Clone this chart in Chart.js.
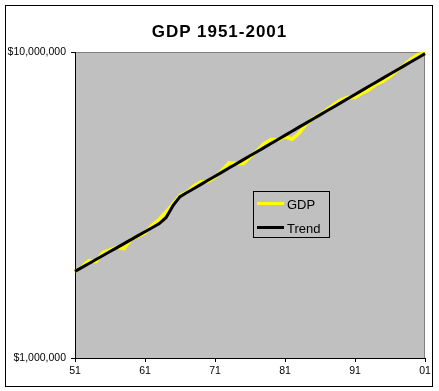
<!DOCTYPE html>
<html>
<head>
<meta charset="utf-8">
<script src="https://cdn.jsdelivr.net/npm/chart.js@4/dist/chart.umd.min.js"></script>
<style>
body { margin: 0; background: #fff; font-family: Arial, "Liberation Sans", sans-serif; }
#wrap { position: relative; width: 439px; height: 391px; overflow: hidden; }
#frame { position: absolute; left: 5px; top: 5px; width: 428px; height: 382px; border: 1px solid #000; box-sizing: border-box; }
#chart { position: absolute; left: 0; top: 0; }
#title { position: absolute; left: 0; width: 439px; top: 23px; text-align: center; font-weight: bold; font-size: 17px; line-height: 17px; letter-spacing: 1px; color: #000; }
#legend { position: absolute; left: 253px; top: 191px; width: 77px; height: 47px; border: 1px solid #000; box-sizing: border-box; }
.sw { position: absolute; left: 3px; width: 27px; height: 3px; }
.lt { position: absolute; left: 33px; font-size: 13px; line-height: 13px; color: #000; }
</style>
</head>
<body>
<div id="wrap">
  <div id="frame"></div>
  <canvas id="chart" width="439" height="391"></canvas>
  <div id="title">GDP 1951-2001</div>
  <div id="legend">
    <div class="sw" style="top:10px;background:#ffff00"></div><div class="lt" style="top:6px">GDP</div>
    <div class="sw" style="top:34px;background:#000"></div><div class="lt" style="top:30px">Trend</div>
  </div>
</div>
<script>
const years = ['1951','1952','1953','1954','1955','1956','1957','1958','1959','1960',
  '1961','1962','1963','1964','1965','1966','1967','1968','1969','1970',
  '1971','1972','1973','1974','1975','1976','1977','1978','1979','1980',
  '1981','1982','1983','1984','1985','1986','1987','1988','1989','1990',
  '1991','1992','1993','1994','1995','1996','1997','1998','1999','2000','2001'];

const gdp = [1915000, 1988300, 2079500, 2065400, 2212800, 2255800, 2301100, 2279200, 2441300, 2501800,
  2560000, 2715200, 2834000, 2998600, 3191100, 3399100, 3484600, 3652700, 3765400, 3771900,
  3898600, 4105000, 4341500, 4319600, 4311200, 4540900, 4750500, 5015000, 5173400, 5161700,
  5291700, 5189300, 5423800, 5813600, 6053700, 6263600, 6475100, 6742700, 6981400, 7112500,
  7100500, 7336600, 7532700, 7835500, 8031700, 8328900, 8703500, 9066900, 9470300, 9817000, 9890700];

const trend = [1918700, 1976900, 2036800, 2098600, 2162200, 2227800, 2295300, 2364900, 2436600, 2510500,
  2586600, 2665000, 2745800, 2874000, 3146000, 3368000, 3473200, 3581600, 3693400, 3808700,
  3927600, 4050200, 4176700, 4307100, 4441600, 4580300, 4723300, 4870800, 5022900, 5179700,
  5341400, 5508200, 5680200, 5857500, 6040400, 6229000, 6423500, 6624100, 6830900, 7044200,
  7264200, 7491000, 7724900, 7966100, 8214800, 8471300, 8735800, 9008600, 9289900, 9580000, 9879100];

const xTickLabels = ['51', '61', '71', '81', '91', '01'];
const yTicks = [1000000, 10000000];

// grey plot area with the darker top/right edge like Excel
const plotBg = {
  id: 'plotBg',
  beforeDraw(chart) {
    const { ctx, chartArea: a } = chart;
    ctx.save();
    ctx.fillStyle = '#c0c0c0';
    ctx.fillRect(a.left, a.top, a.right - a.left, a.bottom - a.top);
    ctx.strokeStyle = '#808080';
    ctx.lineWidth = 1;
    ctx.beginPath();
    ctx.moveTo(a.left, a.top + 0.5);
    ctx.lineTo(a.right - 0.5, a.top + 0.5);
    ctx.lineTo(a.right - 0.5, a.bottom);
    ctx.stroke();
    ctx.restore();
  }
};

const font = { family: 'Arial, "Liberation Sans", sans-serif', size: 10.5 };

new Chart(document.getElementById('chart'), {
  type: 'line',
  data: {
    labels: years,
    datasets: [
      { label: 'GDP', data: gdp, borderColor: '#ffff00', borderWidth: 3.5, pointRadius: 0, tension: 0, order: 1 },
      { label: 'Trend', data: trend, borderColor: '#000000', borderWidth: 3, pointRadius: 0, tension: 0, order: 0 }
    ]
  },
  options: {
    responsive: false,
    animation: false,
    devicePixelRatio: 1,
    layout: { padding: { top: 52, right: 14, bottom: 0, left: 0 } },
    plugins: { legend: { display: false }, title: { display: false }, tooltip: { enabled: false } },
    scales: {
      x: {
        type: 'category',
        offset: false,
        border: { color: '#000', width: 1 },
        grid: { drawOnChartArea: false, drawTicks: true, tickLength: 4, color: '#000' },
        ticks: {
          autoSkip: false, maxRotation: 0, color: '#000', font, padding: 3,
          callback(val, i) { return i % 10 === 0 ? xTickLabels[i / 10] : null; }
        },
        afterFit(s) { s.height = 33; }
      },
      y: {
        type: 'logarithmic',
        min: 1000000,
        max: 10000000,
        border: { color: '#000', width: 1 },
        grid: { drawOnChartArea: false, drawTicks: true, tickLength: 4, color: '#000' },
        ticks: {
          color: '#000', font, padding: 5,
          callback(v) { return '$' + Number(v).toLocaleString('en-US'); }
        },
        afterBuildTicks(s) { s.ticks = yTicks.map(v => ({ value: v })); },
        afterFit(s) { s.width = 75; }
      }
    }
  },
  plugins: [plotBg]
});
</script>
</body>
</html>
